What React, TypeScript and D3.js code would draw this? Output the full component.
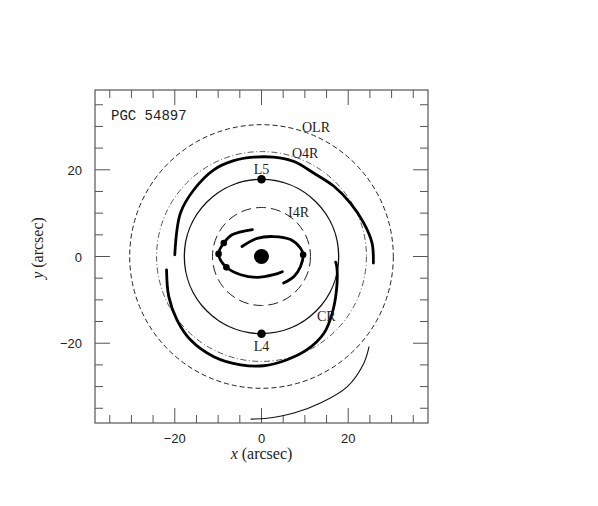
import React from 'react';
import * as d3 from 'd3';

// resonance circles (radius in arcsec)
const rOLR = 30.4;
const rO4R = 24.2;
const rCR = 17.8;
const rI4R = 11.3;

// outer spiral arms (thick)
const armUpper: [number, number][] = [
  [-20.0, 0.4], [-18.7, 10.0], [-15.6, 15.4], [-11.0, 20.0], [-6.4, 22.1],
  [-1.8, 22.9], [2.8, 22.9], [7.5, 21.9], [12.1, 19.2], [16.7, 16.2],
  [20.5, 12.3], [23.6, 7.7], [25.5, 3.1], [25.8, -1.5],
];
const armLower: [number, number][] = [
  [-21.9, -3.1], [-21.4, -9.2], [-19.5, -14.6], [-16.4, -19.2], [-11.0, -23.1],
  [-4.8, -25.0], [0.5, -25.2], [5.9, -23.8], [10.5, -21.5], [14.4, -17.7],
  [16.3, -13.1], [17.3, -7.7], [17.4, -2.6], [17.1, -1.3],
];
// thin outer arc
const armThin: [number, number][] = [
  [24.8, -20.8], [23.6, -24.6], [19.8, -30.0], [13.6, -33.8], [7.5, -36.1],
  [1.3, -37.3], [-2.5, -37.5],
];
// inner bar orbits (thick)
const barLeft: [number, number][] = [
  [-2.1, 6.2], [-6.8, 5.0], [-8.7, 3.1], [-9.9, 0.6], [-8.1, -2.5],
  [-4.8, -4.2], [-1.0, -4.8], [2.8, -4.2], [4.8, -3.5],
];
const barRight: [number, number][] = [
  [-4.5, 2.3], [-1.0, 4.2], [2.8, 4.6], [6.7, 3.9], [9.0, 1.9],
  [9.6, 0.4], [9.0, -2.3], [7.5, -4.6], [5.1, -6.1],
];

const lagrange: [number, number][] = [[0, 17.8], [0, -17.8]];
const smallDots: [number, number][] = [[-8.7, 3.1], [-9.9, 0.6], [-8.1, -2.5], [9.6, 0.4]];

const xTicksMajor = [-20, 0, 20];
const minorTicks = d3.range(-35, 36, 5);

export default function App() {
  const width = 598;
  const height = 506;
  const x = d3.scaleLinear().domain([-38.4, 38.4]).range([95, 428]);
  const y = d3.scaleLinear().domain([-38.4, 38.4]).range([423, 90]);
  const rp = (r: number) => x(r) - x(0);
  const line = d3.line<[number, number]>()
    .x(d => x(d[0]))
    .y(d => y(d[1]))
    .curve(d3.curveCatmullRom.alpha(0.5));

  const axisColor = '#555';
  const [x0, x1] = x.range();
  const [y0, y1] = [y(-38.4), y(38.4)];

  return (
    <svg width={width} height={height} style={{ position: 'absolute', left: 0, top: 0, background: '#fff' }}>
      {/* frame */}
      <rect x={x0} y={y1} width={x1 - x0} height={y0 - y1} fill="none" stroke={axisColor} strokeWidth={1.2} />
      {/* ticks */}
      {minorTicks.map(t => {
        const major = xTicksMajor.includes(t);
        const len = major ? 15 : 8;
        return (
          <g key={t} stroke={axisColor} strokeWidth={1}>
            <line x1={x(t)} x2={x(t)} y1={y0} y2={y0 - len} />
            <line x1={x(t)} x2={x(t)} y1={y1} y2={y1 + len} />
            <line y1={y(t)} y2={y(t)} x1={x0} x2={x0 + len} />
            <line y1={y(t)} y2={y(t)} x1={x1} x2={x1 - len} />
          </g>
        );
      })}
      {xTicksMajor.map(t => (
        <text key={'xl' + t} x={x(t)} y={y0 + 20} textAnchor="middle" fontFamily="Liberation Sans" fontSize={13} fill="#222">
          {t < 0 ? '\u2212' + Math.abs(t) : t}
        </text>
      ))}
      {xTicksMajor.map(t => (
        <text key={'yl' + t} x={x0 - 13} y={y(t) + 5} textAnchor="end" fontFamily="Liberation Sans" fontSize={13} fill="#222">
          {t < 0 ? '\u2212' + Math.abs(t) : t}
        </text>
      ))}
      <text x={x(0)} y={y0 + 36} textAnchor="middle" fontFamily="Liberation Serif" fontSize={16} fill="#222">
        <tspan fontStyle="italic">x</tspan> (arcsec)
      </text>
      <text transform={`translate(43,${248}) rotate(-90)`} textAnchor="middle" fontFamily="Liberation Serif" fontSize={16} fill="#222">
        <tspan fontStyle="italic">y</tspan> (arcsec)
      </text>

      {/* resonance circles */}
      <circle cx={x(0)} cy={y(0)} r={rp(rOLR)} fill="none" stroke="#222" strokeWidth={1} strokeDasharray="5 3" />
      <circle cx={x(0)} cy={y(0)} r={rp(rO4R)} fill="none" stroke="#444" strokeWidth={0.9} strokeDasharray="6 2.5 1 2.5" />
      <circle cx={x(0)} cy={y(0)} r={rp(rCR)} fill="none" stroke="#111" strokeWidth={1.3} />
      <circle cx={x(0)} cy={y(0)} r={rp(rI4R)} fill="none" stroke="#222" strokeWidth={1} strokeDasharray="10 5" />

      {/* arms */}
      {[armUpper, armLower, barLeft, barRight].map((pts, i) => (
        <path key={i} d={line(pts) || ''} fill="none" stroke="#000" strokeWidth={2.8} strokeLinecap="round" />
      ))}
      <path d={line(armThin) || ''} fill="none" stroke="#111" strokeWidth={1.1} />

      {/* points */}
      <circle cx={x(0)} cy={y(0)} r={7.5} fill="#000" />
      {lagrange.map((d, i) => (
        <circle key={'L' + i} cx={x(d[0])} cy={y(d[1])} r={4.3} fill="#000" />
      ))}
      {smallDots.map((d, i) => (
        <circle key={'s' + i} cx={x(d[0])} cy={y(d[1])} r={3.3} fill="#000" />
      ))}

      {/* labels */}
      <g fontFamily="Liberation Serif" fontSize={14} fill="#222">
        <text x={302} y={132}>OLR</text>
        <text x={292} y={158}>O4R</text>
        <text x={x(0)} y={174} textAnchor="middle">L5</text>
        <text x={288} y={217}>I4R</text>
        <text x={317} y={321}>CR</text>
        <text x={x(0)} y={351} textAnchor="middle">L4</text>
      </g>
      <text x={111} y={120} fontFamily="Liberation Mono" fontSize={14} fill="#222">PGC 54897</text>
    </svg>
  );
}
